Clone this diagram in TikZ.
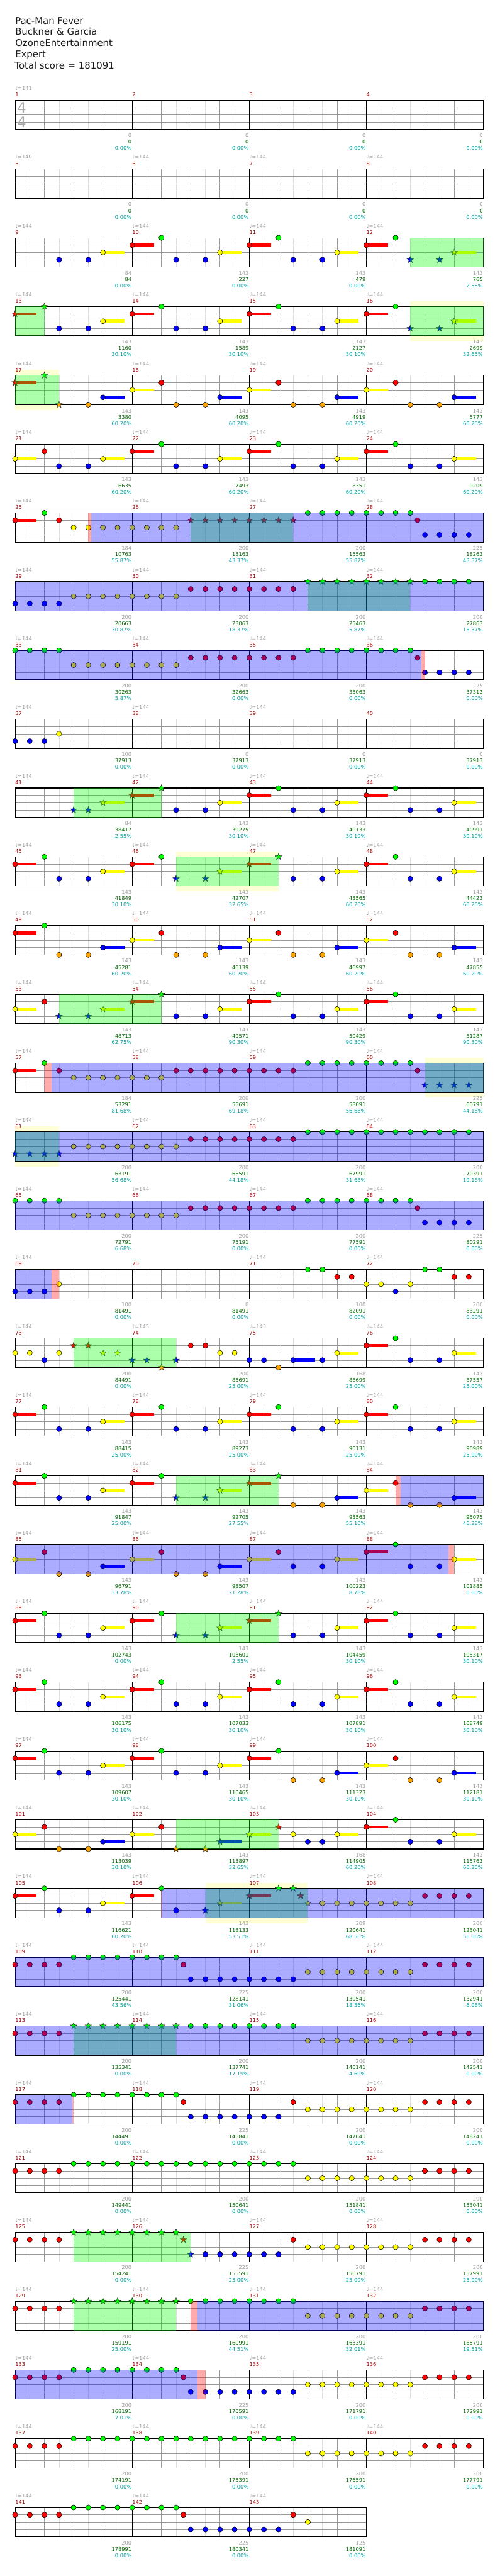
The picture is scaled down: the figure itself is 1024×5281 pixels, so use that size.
\documentclass[tikz,border=0pt]{standalone}
\usepackage{fontspec}
\setmainfont{DejaVu Sans}
\usetikzlibrary{shapes.geometric}
\definecolor{GemGreen}{HTML}{00FF00}
\definecolor{GemRed}{HTML}{FF0000}
\definecolor{GemYellow}{HTML}{FFFF00}
\definecolor{GemBlue}{HTML}{0000FF}
\definecolor{GemOrange}{HTML}{FFA500}
\colorlet{lane0}{GemGreen}
\colorlet{lane1}{GemRed}
\colorlet{lane2}{GemYellow}
\colorlet{lane3}{GemBlue}
\colorlet{lane4}{GemOrange}
\definecolor{ChartGray}{HTML}{A0A0A0}
\definecolor{GridGray}{HTML}{999999}
\definecolor{GridLight}{HTML}{DDDDDD}
\definecolor{BarRed}{HTML}{990000}
\definecolor{ScoreGreen}{HTML}{006600}
\definecolor{PctTeal}{HTML}{009999}
\definecolor{BandYellow}{HTML}{FFFFD5}
\definecolor{TitleBlack}{HTML}{1A1A1A}
\newcommand\scorefont{\fontsize{8}{9}\selectfont}
\newcommand\titlefont{\fontsize{14.4}{17}\selectfont}
\def\notempo{-}
\tikzset{
  rowscope/.style={shift={(31,205.5+141*#1)},x=22.5pt,y=-11.25pt},
  gem/.style={circle,draw=black,line width=0.5pt,inner sep=0pt,minimum size=8pt,fill=lane#1},
  stargem/.style={star,star points=5,star point ratio=2.4,draw=black!85,line width=0.45pt,inner sep=0pt,minimum size=10.5pt,fill=lane#1},
  halfline/.style={GridLight,line width=0.6pt},
  beatline/.style={GridGray,line width=0.6pt},
  laneline/.style={GridGray,line width=0.6pt},
  barline/.style={black,line width=0.8pt},
  staffline/.style={black,line width=1pt},
  spphrase/.style={fill=GemGreen,fill opacity=0.33},
  spactive/.style={fill=GemBlue,fill opacity=0.33},
  spsqueeze/.style={fill=GemRed,fill opacity=0.33},
  spband/.style={fill=BandYellow},
  titleline/.style={anchor=base west,inner sep=0pt,text=TitleBlack,font=\titlefont},
  tempolabel/.style={anchor=base west,inner sep=0pt,text=ChartGray,font=\scorefont},
  barnum/.style={anchor=base west,inner sep=0pt,text=BarRed,font=\scorefont},
  basescore/.style={anchor=base east,inner sep=0pt,text=ChartGray,font=\scorefont},
  totalscore/.style={anchor=base east,inner sep=0pt,text=ScoreGreen,font=\scorefont},
  pctscore/.style={anchor=base east,inner sep=0pt,text=PctTeal,font=\scorefont},
  timesig/.style={inner sep=0pt,text=black!33,font=\fontsize{22}{22}\selectfont}
}
% one staff of #2 eighths on row #1
\newcommand\staffrow[2]{%
  \begin{scope}[rowscope=#1]
    \fill[white] (0,0) rectangle (#2,4);
    \foreach \i in {1,3,...,#2} \draw[halfline] (\i,0) -- (\i,4);
    \foreach \i in {2,4,...,#2} \draw[beatline] (\i,0) -- (\i,4);
    \foreach \i in {1,2,3} \draw[laneline] (0,\i) -- (#2,\i);
    \foreach \i in {8,16,...,#2} \draw[barline] (\i,0) -- (\i,4);
    \draw[staffline] (0,0) rectangle (#2,4);
  \end{scope}}
% single gems: eighth/lane/kind (0 plain, 1 star, 2 hold, 3 star hold)
\newcommand\gemrow[2]{%
  \begin{scope}[rowscope=#1]
    \foreach \gx/\gl/\gk [count=\i] in {#2}{%
      \ifnum\gk>1 \fill[fill=lane\gl] (\gx,\gl-0.2) rectangle (\gx+1.48,\gl+0.2);\fi
      \ifodd\gk\relax \node[stargem=\gl] (gem-#1-\i) at (\gx,\gl) {};%
      \else \node[gem=\gl] (gem-#1-\i) at (\gx,\gl) {};\fi
    }
  \end{scope}}
% runs of eighths: from/to/lane/kind
\newcommand\gemrun[2]{%
  \begin{scope}[rowscope=#1]
    \foreach \ga/\gb/\gl/\gk [count=\i] in {#2}{%
      \foreach \gx [count=\j] in {\ga,...,\gb}{%
        \ifodd\gk\relax \node[stargem=\gl] (run-#1-\i-\j) at (\gx,\gl) {};%
        \else \node[gem=\gl] (run-#1-\i-\j) at (\gx,\gl) {};\fi
      }
    }
  \end{scope}}

\begin{document}
\begin{tikzpicture}[x=0.75pt,y=-0.75pt]
  \useasboundingbox (0,0) rectangle (1024,5281);
  \fill[white] (0,0) rectangle (1024,5281);

  % header
  \node[titleline] (song) at (31,49) {Pac-Man Fever};
  \node[titleline] (artist) at (31,72) {Buckner \& Garcia};
  \node[titleline] (charter) at (31,95) {OzoneEntertainment};
  \node[titleline] (level) at (31,118) {Expert};
  \node[titleline] (total) at (30,141) {Total score = 181091};

  % star power bands behind the staffs
  \foreach \sr/\sa/\sb in {3/27/32,4/0/3,11/11/18,14/28/32,15/0/3,26/13/20}
    \fill[rowscope=\sr,spband] (\sa,-0.73) rectangle (\sb,4.73);

  % staffs
  \foreach \r in {0,...,34} {\staffrow{\r}{32}}
  \staffrow{35}{24}
  \node[timesig] (sig-top) at (44.5,220.8) {4};
  \node[timesig] (sig-bottom) at (44.5,250.8) {4};

  % gems
  \gemrow{2}{3/3/0,5/3/0,6/2/2,8/1/2,10/0/0,11/3/0,13/3/0,14/2/2,16/1/2,18/0/0,19/3/0,21/3/0,22/2/2,24/1/2,26/0/0,27/3/1,29/3/1,30/2/3}
  \gemrow{3}{0/1/3,2/0/1,3/3/0,5/3/0,6/2/2,8/1/2,10/0/0,11/3/0,13/3/0,14/2/2,16/1/2,18/0/0,19/3/0,21/3/0,22/2/2,24/1/2,26/0/0,27/3/1,29/3/1,30/2/3}
  \gemrow{4}{0/1/3,2/0/1,3/4/1,5/4/0,6/3/2,8/2/2,10/1/0,11/4/0,13/4/0,14/3/2,16/2/2,18/1/0,19/4/0,21/4/0,22/3/2,24/2/2,26/1/0,27/4/0,29/4/0,30/3/2}
  \gemrow{5}{0/2/2,2/1/0,3/3/0,5/3/0,6/2/2,8/1/2,10/0/0,11/3/0,13/3/0,14/2/2,16/1/2,18/0/0,19/3/0,21/3/0,22/2/2,24/1/2,26/0/0,27/3/0,29/3/0,30/2/2}
  \gemrow{6}{0/1/2,2/0/0,3/1/0,27.5/1/0}
  \gemrun{6}{4/11/2/0,12/19/1/1,20/27/0/0,28/31/3/0}
  \gemrun{7}{0/3/3/0,4/11/2/0,12/19/1/0,20/27/0/1,28/31/0/0}
  \gemrun{8}{0/3/0/0,4/11/2/0,12/19/1/0,20/27/0/0,28/31/3/0}
  \gemrow{8}{27.5/1/0}
  \gemrow{9}{0/3/0,1/3/0,2/3/0,3/2/0}
  \gemrow{10}{4/3/1,5/3/1,6/2/3,8/1/3,10/0/1,11/3/0,13/3/0,14/2/2,16/1/2,18/0/0,19/3/0,21/3/0,22/2/2,24/1/2,26/0/0,27/3/0,29/3/0,30/2/2}
  \gemrow{11}{0/1/2,2/0/0,3/3/0,5/3/0,6/2/2,8/1/2,10/0/0,11/3/1,13/3/1,14/2/3,16/1/3,18/0/1,19/3/0,21/3/0,22/2/2,24/1/2,26/0/0,27/3/0,29/3/0,30/2/2}
  \gemrow{12}{0/1/2,2/0/0,3/4/0,5/4/0,6/3/2,8/2/2,10/1/0,11/4/0,13/4/0,14/3/2,16/2/2,18/1/0,19/4/0,21/4/0,22/3/2,24/2/2,26/1/0,27/4/0,29/4/0,30/3/2}
  \gemrow{13}{0/2/2,2/1/0,3/3/1,5/3/1,6/2/3,8/1/3,10/0/1,11/3/0,13/3/0,14/2/2,16/1/2,18/0/0,19/3/0,21/3/0,22/2/2,24/1/2,26/0/0,27/3/0,29/3/0,30/2/2}
  \gemrow{14}{0/1/2,2/0/0,3/1/0,27.5/1/0}
  \gemrun{14}{4/10/2/0,11/19/1/0,20/27/0/0,28/31/3/1}
  \gemrun{15}{0/3/3/1,4/11/2/0,12/19/1/0,20/31/0/0}
  \gemrun{16}{0/3/0/0,4/11/2/0,12/19/1/0,20/27/0/0,28/31/3/0}
  \gemrow{16}{27.5/1/0}
  \gemrow{17}{0/3/0,1/3/0,2/3/0,3/2/0,20/0/0,21/0/0,22/1/0,23/1/0,24/2/0,25/2/0,26/3/0,27/2/0,28/0/0,29/0/0,30/1/0,31/1/0}
  \gemrow{18}{0/2/0,1/2/0,2/3/0,3/2/0,4/1/1,5/1/1,6/2/1,7/2/1,8/3/1,9/3/1,10/4/1,11/3/1,12/1/0,13/1/0,14/2/0,15/2/0,16/3/0,17/3/0,18/4/0,19/3/2,21/3/0,22/2/2,24/1/2,26/0/0,27/3/0,29/3/0,30/2/2}
  \gemrow{19}{0/1/2,2/0/0,3/3/0,5/3/0,6/2/2,8/1/2,10/0/0,11/3/0,13/3/0,14/2/2,16/1/2,18/0/0,19/3/0,21/3/0,22/2/2,24/1/2,26/0/0,27/3/0,29/3/0,30/2/2}
  \gemrow{20}{0/1/2,2/0/0,3/3/0,5/3/0,6/2/2,8/1/2,10/0/0,11/3/1,13/3/1,14/2/3,16/1/3,18/0/1,19/4/0,21/4/0,22/3/2,24/2/2,26/1/0,27/4/0,29/4/0,30/3/2}
  \gemrow{21}{0/2/2,2/1/0,3/4/0,5/4/0,6/3/2,8/2/2,10/1/0,11/4/0,13/4/0,14/3/2,16/2/2,18/1/0,19/3/0,21/3/0,22/2/2,24/1/2,26/0/0,27/3/0,29/3/0,30/2/2}
  \gemrow{22}{0/1/2,2/0/0,3/3/0,5/3/0,6/2/2,8/1/2,10/0/0,11/3/1,13/3/1,14/2/3,16/1/3,18/0/1,19/3/0,21/3/0,22/2/2,24/1/2,26/0/0,27/3/0,29/3/0,30/2/2}
  \gemrow{23}{0/1/2,2/0/0,3/3/0,5/3/0,6/2/2,8/1/2,10/0/0,11/3/0,13/3/0,14/2/2,16/1/2,18/0/0,19/3/0,21/3/0,22/2/2,24/1/2,26/0/0,27/3/0,29/3/0,30/2/2}
  \gemrow{24}{0/1/2,2/0/0,3/3/0,5/3/0,6/2/2,8/1/2,10/0/0,11/3/0,13/3/0,14/2/2,16/1/2,18/0/0,19/4/0,21/4/0,22/3/2,24/2/2,26/1/0,27/4/0,29/4/0,30/3/2}
  \gemrow{25}{0/2/2,2/1/0,3/4/0,5/4/0,6/3/2,8/2/2,10/1/0,11/4/1,13/4/1,14/3/3,16/2/3,18/1/1,19/2/0,20/3/0,21/3/0,22/2/2,24/1/2,26/0/0,27/3/0,29/3/0,30/2/2}
  \gemrow{26}{0/1/2,2/0/0,3/3/0,5/3/0,6/2/2,8/1/2,10/0/0,11/3/0,13/3/1,14/2/3,16/1/3,18/0/1,19/0/1,19.5/1/1,20/2/1}
  \gemrun{26}{21/27/2/0,28/31/1/0}
  \gemrun{27}{0/3/1/0,4/11/0/0,12/19/3/0,20/27/2/0,28/31/1/0}
  \gemrow{27}{11.5/1/0}
  \gemrun{28}{0/3/1/0,4/11/0/1,12/19/0/0,20/27/2/0,28/31/1/0}
  \gemrun{29}{0/3/1/0,4/11/0/0,12/18/3/0,20/27/2/0,28/31/1/0}
  \gemrow{29}{11.5/1/0,19/1/0}
  \gemrun{30}{0/3/1/0,4/19/0/0,20/27/2/0,28/31/1/0}
  \gemrun{31}{0/3/1/0,4/11/0/1,13/18/3/0,20/27/2/0,28/31/1/0}
  \gemrow{31}{11.5/1/1,12/3/1,19/1/0}
  \gemrun{32}{0/3/1/0,4/11/0/1,12/19/0/0,20/27/2/0,28/31/1/0}
  \gemrun{33}{0/3/1/0,4/11/0/0,12/19/3/0,20/27/2/0,28/31/1/0}
  \gemrow{33}{11.5/1/0}
  \gemrun{34}{0/3/1/0,4/19/0/0,20/27/2/0,28/31/1/0}
  \gemrun{35}{0/3/1/0,4/11/0/0,12/18/3/0}
  \gemrow{35}{11.5/1/0,19/1/0,20/2/0}

  % star power phrases, activations and squeeze windows
  \foreach \sr/\sa/\sb in {2/27/32,3/0/2,3/27/32,4/0/3,6/12/19,7/20/27,10/4/10,11/11/18,13/3/10,14/28/32,15/0/3,18/4/11,20/11/18,22/11/18,25/11/18,26/13/20,28/4/11,31/4/12,32/4/11}
    \fill[rowscope=\sr,spphrase] (\sa,0) rectangle (\sb,4);
  \foreach \sr/\sa/\sb in {6/5.19/32,7/0/32,8/0/27.75,14/2.47/32,15/0/32,16/0/32,17/0/2.47,20/26.33/32,21/0/29.6,26/10.03/32,27/0/32,28/0/32,29/0/3.89,32/12.47/32,33/0/12.47}
    \fill[rowscope=\sr,spactive] (\sa,0) rectangle (\sb,4);
  \foreach \sr/\sa/\sb in {6/5/5.19,8/27.75/28,14/2/2.47,17/2.47/3,20/26/26.33,21/29.6/30,26/9.97/10.03,29/3.89/4,32/12/12.47,33/12.47/13}
    \fill[rowscope=\sr,spsqueeze] (\sa,0) rectangle (\sb,4);

  % measure labels and scores
  \foreach \tempo/\scbase/\sctotal/\scpct [count=\mnum] in {
    141/0/0/0.00, -/0/0/0.00, -/0/0/0.00, -/0/0/0.00,
    140/0/0/0.00, 144/0/0/0.00, 144/0/0/0.00, 144/0/0/0.00,
    144/84/84/0.00, 144/143/227/0.00, 144/143/479/0.00, 144/143/765/2.55,
    144/143/1160/30.10, 144/143/1589/30.10, 144/143/2127/30.10, 144/143/2699/32.65,
    144/143/3380/60.20, 144/143/4095/60.20, 144/143/4919/60.20, 144/143/5777/60.20,
    144/143/6635/60.20, 144/143/7493/60.20, 144/143/8351/60.20, 144/143/9209/60.20,
    144/184/10763/55.87, 144/200/13163/43.37, 144/200/15563/55.87, 144/225/18263/43.37,
    144/200/20663/30.87, 144/200/23063/18.37, 144/200/25463/5.87, 144/200/27863/18.37,
    144/200/30263/5.87, 144/200/32663/0.00, 144/200/35063/0.00, 144/225/37313/0.00,
    144/100/37913/0.00, 144/0/37913/0.00, 144/0/37913/0.00, -/0/37913/0.00,
    144/84/38417/2.55, 144/143/39275/30.10, 144/143/40133/30.10, 144/143/40991/30.10,
    144/143/41849/30.10, 144/143/42707/32.65, 144/143/43565/60.20, 144/143/44423/60.20,
    144/143/45281/60.20, 144/143/46139/60.20, 144/143/46997/60.20, 144/143/47855/60.20,
    144/143/48713/62.75, 144/143/49571/90.30, 144/143/50429/90.30, 144/143/51287/90.30,
    144/184/53291/81.68, 144/200/55691/69.18, 144/200/58091/56.68, 144/225/60791/44.18,
    144/200/63191/56.68, 144/200/65591/44.18, 144/200/67991/31.68, 144/200/70391/19.18,
    144/200/72791/6.68, 144/200/75191/0.00, 144/200/77591/0.00, 144/225/80291/0.00,
    144/100/81491/0.00, -/0/81491/0.00, 144/100/82091/0.00, 144/200/83291/0.00,
    144/200/84491/0.00, 145/200/85691/25.00, 143/168/86699/25.00, 144/143/87557/25.00,
    144/143/88415/25.00, 144/143/89273/25.00, 144/143/90131/25.00, 144/143/90989/25.00,
    144/143/91847/25.00, 144/143/92705/27.55, 144/143/93563/55.10, 144/143/95075/46.28,
    144/143/96791/33.78, 144/143/98507/21.28, 144/143/100223/8.78, 144/143/101885/0.00,
    144/143/102743/0.00, 144/143/103601/2.55, 144/143/104459/30.10, 144/143/105317/30.10,
    144/143/106175/30.10, 144/143/107033/30.10, 144/143/107891/30.10, 144/143/108749/30.10,
    144/143/109607/30.10, 144/143/110465/30.10, 144/143/111323/30.10, 144/143/112181/30.10,
    144/143/113039/30.10, 144/143/113897/32.65, 144/168/114905/60.20, 144/143/115763/60.20,
    144/143/116621/60.20, 144/143/118133/53.51, 144/209/120641/68.56, 144/200/123041/56.06,
    144/200/125441/43.56, 144/225/128141/31.06, 144/200/130541/18.56, 144/200/132941/6.06,
    144/200/135341/0.00, 144/200/137741/17.19, 144/200/140141/4.69, 144/200/142541/0.00,
    144/200/144491/0.00, 144/225/145841/0.00, 144/200/147041/0.00, 144/200/148241/0.00,
    144/200/149441/0.00, 144/200/150641/0.00, 144/200/151841/0.00, 144/200/153041/0.00,
    144/200/154241/0.00, 144/225/155591/25.00, 144/200/156791/25.00, 144/200/157991/25.00,
    144/200/159191/25.00, 144/200/160991/44.51, 144/200/163391/32.01, 144/200/165791/19.51,
    144/200/168191/7.01, 144/225/170591/0.00, 144/200/171791/0.00, 144/200/172991/0.00,
    144/200/174191/0.00, 144/200/175391/0.00, 144/200/176591/0.00, 144/200/177791/0.00,
    144/200/178991/0.00, 144/225/180341/0.00, 144/125/181091/0.00}{
    \pgfmathtruncatemacro\mrow{(\mnum-1)/4}
    \pgfmathtruncatemacro\mcol{\mnum-1-4*\mrow}
    \pgfmathsetmacro\xl{31+240*\mcol}
    \pgfmathsetmacro\xr{270+240*\mcol}
    \pgfmathsetmacro\yt{205.5+141*\mrow}
    \ifx\tempo\notempo\else
      \node[tempolabel] (tempo-\mnum) at (\xl,\yt-20.4) {♩=\tempo};
    \fi
    \node[barnum] (num-\mnum) at (\xl,\yt-7.4) {\mnum};
    \node[basescore] (base-\mnum) at (\xr,\yt+76.3) {\scbase};
    \node[totalscore] (total-\mnum) at (\xr,\yt+89.3) {\sctotal};
    \node[pctscore] (pct-\mnum) at (\xr,\yt+102.3) {\scpct\%};
  }
\end{tikzpicture}
\end{document}
